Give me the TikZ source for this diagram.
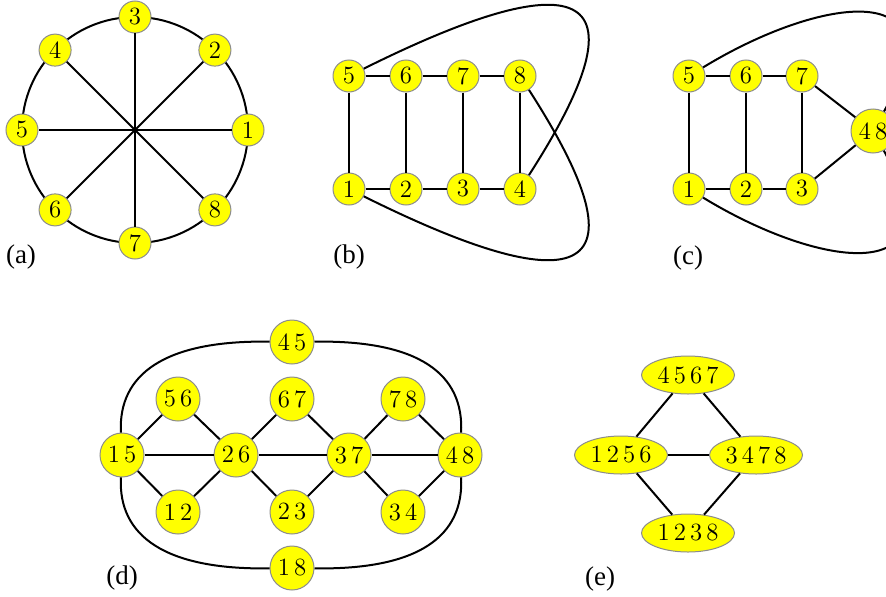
\documentclass[tikz,border=0pt]{standalone}
\usepackage{fontspec}
\usepackage{tikz}
\usetikzlibrary{positioning,shapes.geometric}
\newfontfamily\capfont{Liberation Serif}
\definecolor{vtxYellow}{HTML}{FFFF00}
\definecolor{vtxRim}{HTML}{8C8C8C}

\begin{document}
\begin{tikzpicture}[x=0.5pt,y=0.5pt,line width=1pt,
  vtx/.style={circle,draw=vtxRim,line width=0.5pt,fill=vtxYellow,inner sep=0pt,minimum size=16pt,font=\fontsize{12.4}{14}\selectfont},
  bigvtx/.style={vtx,minimum size=22pt},
  blob/.style={vtx,ellipse,minimum width=46.5pt,minimum height=19pt},
  caption/.style={font=\capfont\fontsize{13.5}{15}\selectfont}]
\useasboundingbox (0,0) rectangle (886,596);
% graph (a): cycle with long diagonals
\coordinate (ca) at (135,466);
\draw (ca) circle[radius=56.5pt];
\foreach \i in {1,...,8}
  \node[vtx] (a\i) at ([shift={({(\i-1)*45}:113)}]ca) {\i};
\foreach \i/\j in {1/5,2/6,3/7,4/8} \draw (a\i) -- (a\j);
\node[caption] (la) at (21,339) {(a)};
% graph (b): ladder with crossed ends
\foreach \n/\x in {5/349,6/406,7/463,8/520} \node[vtx] (b\n) at (\x,520) {\n};
\foreach \n/\x in {1/349,2/406,3/463,4/520} \node[vtx] (b\n) at (\x,407) {\n};
\draw (b5) -- (b6) -- (b7) -- (b8);
\draw (b1) -- (b2) -- (b3) -- (b4);
\foreach \i/\j in {5/1,6/2,7/3,8/4} \draw (b\i) -- (b\j);
\draw (b5) .. controls (540,615) and (670,640) .. (b4);
\draw (b8) .. controls (670,287) and (540,312) .. (b1);
\node[caption] (lb) at (349,339) {(b)};
% graph (c): 4 and 8 merged
\foreach \n/\x in {5/689,6/746,7/802} \node[vtx] (c\n) at (\x,520) {\n};
\foreach \n/\x in {1/689,2/746,3/802} \node[vtx] (c\n) at (\x,407) {\n};
\node[bigvtx] (c48) at (873,465) {4\,8};
\draw (c5) -- (c6) -- (c7);
\draw (c1) -- (c2) -- (c3);
\foreach \i/\j in {5/1,6/2,7/3,7/48,3/48} \draw (c\i) -- (c\j);
\draw (c5) .. controls (820,600) and (960,620) .. (c48);
\draw (c1) .. controls (820,327) and (960,307) .. (c48);
\node[caption] (lc) at (688,338) {(c)};
% graph (d): edge graph
\foreach \a/\b/\x/\y in {4/5/292/254, 5/6/178/197, 6/7/292/197, 7/8/403/197,
    1/5/122/141, 2/6/236/141, 3/7/349/141, 4/8/460/141,
    1/2/178/84, 2/3/292/84, 3/4/403/84, 1/8/292/28}
  \node[bigvtx] (d\a\b) at (\x,\y) {\a\,\b};
\foreach \p/\q in {15/56,56/26,26/67,67/37,37/78,78/48,15/12,12/26,26/23,
    23/37,37/34,34/48,15/26,26/37,37/48}
  \draw (d\p) -- (d\q);
\draw (d15) .. controls (118,222) and (165,256) .. (d45);
\draw (d45) .. controls (419,256) and (464,222) .. (d48);
\draw (d15) .. controls (118,60) and (165,26) .. (d18);
\draw (d18) .. controls (419,26) and (464,60) .. (d48);
\node[caption] (ld) at (122,18) {(d)};
% graph (e): faces
\node[blob] (e4567) at (688,221) {4\,5\,6\,7};
\node[blob] (e1256) at (621,141) {1\,2\,5\,6};
\node[blob] (e3478) at (756,141) {3\,4\,7\,8};
\node[blob] (e1238) at (688,63) {1\,2\,3\,8};
\draw (e4567) -- (e1256) -- (e1238) -- (e3478) -- (e4567);
\draw (e1256) -- (e3478);
\node[caption] (le) at (600,17) {(e)};
\end{tikzpicture}
\end{document}
